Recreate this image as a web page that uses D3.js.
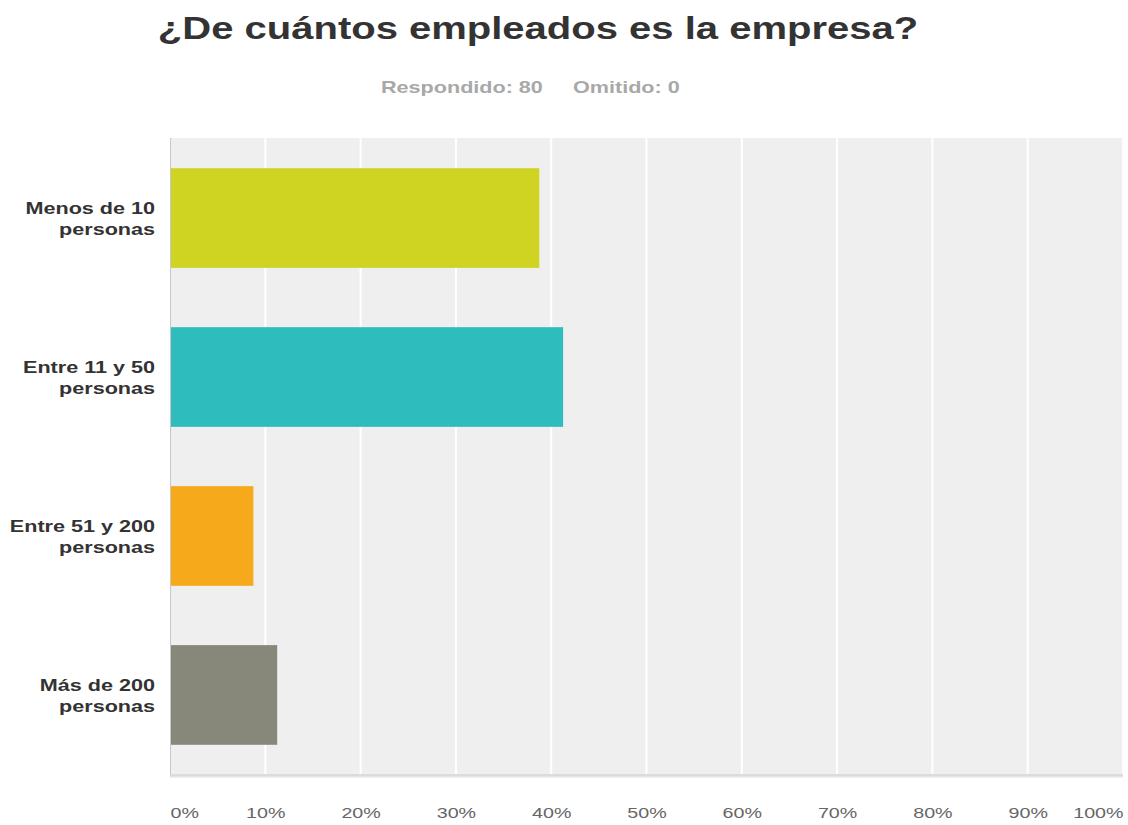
<!DOCTYPE html>
<html>
<head>
<meta charset="utf-8">
<script src="https://cdn.jsdelivr.net/npm/d3@7"></script>
<style>
  body { margin: 0; background: #fff; }
  svg { display: block; font-family: "Liberation Sans", Arial, sans-serif; }
</style>
</head>
<body>
<div id="chart"></div>
<script>
const categories = [
    ["Menos de 10", "personas"],
    ["Entre 11 y 50", "personas"],
    ["Entre 51 y 200", "personas"],
    ["Más de 200", "personas"]
];
const percents = [38.75, 41.25, 8.75, 11.25];
const barColors = ["#cfd423", "#2fbcbd", "#f7a91c", "#88887a"];
const tickValues = [0, 10, 20, 30, 40, 50, 60, 70, 80, 90, 100];
const titleText = "¿De cuántos empleados es la empresa?";
const subtitleText = ["Respondido: 80", "Omitido: 0"];

const width = 1128, height = 825;
const margin = { top: 138, right: 5, bottom: 50, left: 170 };
// el texto de la imagen original sale un poco estirado a lo ancho
const stretch = 1.27;

const svg = d3.select("#chart").append("svg")
    .attr("width", width)
    .attr("height", height);

function stretchedText(parent, x, y) {
    return parent.append("g")
        .attr("transform", `translate(${x},${y}) scale(${stretch},1)`)
        .append("text");
}

// titulo
stretchedText(svg, 538, 39)
    .attr("text-anchor", "middle")
    .attr("font-size", "31.5px")
    .attr("font-weight", "bold")
    .attr("fill", "#333")
    .text(titleText);

// respondido / omitido
[381, 573].forEach((sx, i) => {
    stretchedText(svg, sx, 93)
        .attr("font-size", "17px")
        .attr("font-weight", "bold")
        .attr("fill", "#a8a8a8")
        .text(subtitleText[i]);
});

const x = d3.scaleLinear()
    .domain([0, 100])
    .range([margin.left, width - margin.right]);

const y = d3.scaleBand()
    .domain(d3.range(categories.length))
    .range([margin.top, height - margin.bottom])
    .paddingInner(0.373)
    .paddingOuter(0.19);

// fondo del area
svg.append("rect")
    .attr("x", margin.left)
    .attr("y", margin.top)
    .attr("width", width - margin.left - margin.right)
    .attr("height", height - margin.top - margin.bottom)
    .attr("fill", "#efefef");

// grilla vertical blanca
svg.append("g")
    .selectAll("line")
    .data(tickValues.slice(1))
    .enter()
    .append("line")
    .attr("x1", d => x(d))
    .attr("x2", d => x(d))
    .attr("y1", margin.top)
    .attr("y2", height - margin.bottom)
    .attr("stroke", "#fff")
    .attr("stroke-width", 2);

// eje izquierdo
svg.append("line")
    .attr("x1", margin.left + 0.5)
    .attr("x2", margin.left + 0.5)
    .attr("y1", margin.top)
    .attr("y2", height - margin.bottom)
    .attr("stroke", "#c8c8c8");

// eje inferior con sombra
svg.append("line")
    .attr("x1", margin.left)
    .attr("x2", width - margin.right)
    .attr("y1", height - margin.bottom + 1)
    .attr("y2", height - margin.bottom + 1)
    .attr("stroke", "#e4e4e4")
    .attr("stroke-width", 3);
svg.append("line")
    .attr("x1", margin.left)
    .attr("x2", width - margin.right)
    .attr("y1", height - margin.bottom)
    .attr("y2", height - margin.bottom)
    .attr("stroke", "#d0d0d0");

// barras
svg.selectAll("rect.bar")
    .data(percents)
    .enter()
    .append("rect")
    .attr("class", "bar")
    .attr("x", x(0) + 1)
    .attr("y", (d, i) => y(i))
    .attr("width", d => x(d) - x(0) - 1)
    .attr("height", y.bandwidth())
    .attr("fill", (d, i) => barColors[i]);

// etiquetas de categorias
categories.forEach((lines, i) => {
    const cy = y(i) + y.bandwidth() / 2;
    const t = stretchedText(svg, 155, cy)
        .attr("text-anchor", "end")
        .attr("font-size", "17px")
        .attr("font-weight", "bold")
        .attr("fill", "#333");
    t.selectAll("tspan")
        .data(lines)
        .enter()
        .append("tspan")
        .attr("x", 0)
        .attr("y", (d, j) => j === 0 ? -4 : 17)
        .text(d => d);
});

// etiquetas del eje x
const xAxis = svg.append("g")
    .attr("transform", `translate(0,${height - margin.bottom})`)
    .call(d3.axisBottom(x).tickValues(tickValues).tickSize(0).tickPadding(0).tickFormat(d => d + "%"));

xAxis.select(".domain").remove();
xAxis.selectAll("text")
    .attr("y", 43)
    .attr("dy", null)
    .attr("font-size", "15.5px")
    .attr("font-family", "\"Liberation Sans\", Arial, sans-serif")
    .attr("fill", "#666")
    .attr("transform", `scale(${stretch},1)`)
    .attr("text-anchor", d => d === 0 ? "start" : d === 100 ? "end" : "middle");
</script>
</body>
</html>
